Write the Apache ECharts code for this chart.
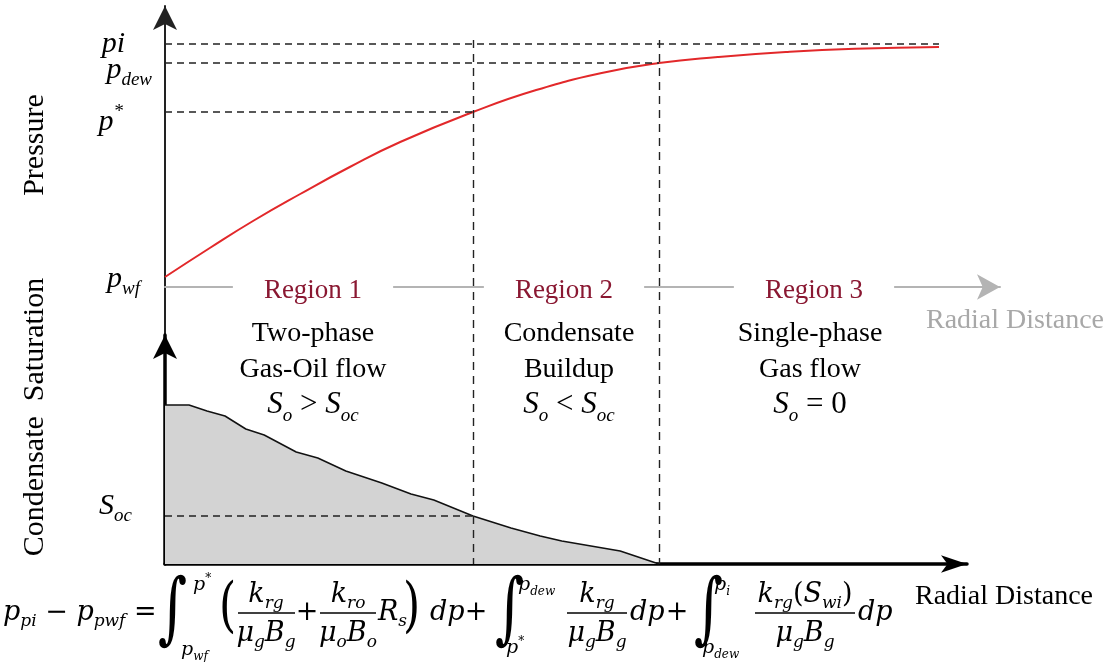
<!DOCTYPE html>
<html>
<head>
<meta charset="utf-8">
<script src="https://cdn.jsdelivr.net/npm/echarts@6/dist/echarts.min.js"></script>
<style>
  html, body { margin: 0; background: #fff; }
  #main { width: 1112px; height: 662px; }
</style>
</head>
<body>
<div id="main"></div>
<script>
var myChart = echarts.init(document.getElementById('main'))

// radial distance in arbitrary units, 0 = wellbore
const rStar = 38.5
const rDew = 61.75
const rEnd = 96.75

// pressure levels (psi)
const pInit = 4860
const pDew = 4480
const pStar = 3500
const pwf = 200
const pDivTop = 4940   // top end of the region dividers

// pressure profile
const pressR = [0, 5.6, 11, 16.9, 23.1, 29.4, 38.5, 46.4, 54.9, 61.75, 69.1, 77.6, 86.25, 96.75]
const pressV = [200, 780, 1320, 1860, 2400, 2900, 3500, 3940, 4290, 4480, 4600, 4700, 4765, 4800]

// condensate saturation (%) profile
const satR = [0, 3, 5.25, 7.5, 10.1, 12.4, 16.4, 19.1, 22.6, 27.1, 30.75, 33.6, 38.5, 43.25, 46.9, 49.6, 56.9, 61.75]
const satV = [39.75, 39.75, 38.25, 37, 33.75, 32.25, 28, 26.5, 23.25, 20.25, 17.5, 16, 12, 9, 7, 5.75, 3.25, 0]
const Soc = 12

// axis extents
const pMin = -5540, pMax = 5620
const sMax = 57.25
const rMaxTop = 104.375, rMaxBot = 100.25

const TF = 'Liberation Serif'
const MF = 'DejaVu Serif'

function mathRich(size, fam) {
  fam = fam || MF
  const lh = Math.round(size * 1.3)
  const ss = Math.round(size * 0.62)
  return {
    i: { fontFamily: fam, fontStyle: 'italic', fontSize: size, lineHeight: lh, color: '#000' },
    n: { fontFamily: fam, fontSize: size, lineHeight: lh, color: '#000' },
    s: { fontFamily: fam, fontStyle: 'italic', fontSize: ss, lineHeight: ss, verticalAlign: 'bottom', color: '#000' },
    u: { fontFamily: fam, fontStyle: 'italic', fontSize: ss, lineHeight: ss, verticalAlign: 'top', color: '#000' }
  }
}

function txt(x, y, text, opt, extra) {
  return Object.assign({
    type: 'text', x: x, y: y, z: 50,
    style: Object.assign({ text: text, fill: '#000', fontFamily: TF, fontSize: 28, align: 'center', verticalAlign: 'middle' }, opt || {})
  }, extra || {})
}
function mtxt(x, y, text, size, align, fam) {
  return txt(x, y, text, { rich: mathRich(size, fam), align: align || 'left' })
}
function bar(x1, x2, y) {
  return { type: 'line', z: 50, shape: { x1: x1, y1: y, x2: x2, y2: y }, style: { stroke: '#000', lineWidth: 1.5 } }
}
function integral(x) {
  return txt(x, 614, '\u222B', { fontFamily: MF, fontSize: 56, align: 'left' }, { scaleY: 1.4 })
}
function paren(x, ch) {
  return txt(x, 610, ch, { fontFamily: MF, fontSize: 44, align: 'left' }, { scaleY: 1.35 })
}

const regionStyle = { fill: '#8a1832', fontSize: 27, backgroundColor: '#fff', padding: [2, 31] }
const FR = 27   // formula main size
const FL = 19   // integral limit size

const graphics = [
  // axis titles
  txt(35, 145, 'Pressure', { fontSize: 30 }, { rotation: Math.PI / 2 }),
  txt(35, 417, 'Condensate  Saturation', { fontSize: 30 }, { rotation: Math.PI / 2 }),
  txt(1015, 321, 'Radial Distance', { fontSize: 28, fill: '#a8a8a8' }),
  txt(1004, 597, 'Radial Distance', { fontSize: 28 }),

  // regions
  txt(313, 291, 'Region 1', regionStyle),
  txt(313, 334, 'Two-phase'),
  txt(313, 370, 'Gas-Oil flow'),
  mtxt(313, 405, '{i|S}{s|o}{n| > }{i|S}{s|oc}', 31, 'center', TF),
  txt(564, 291, 'Region 2', regionStyle),
  txt(569, 334, 'Condensate'),
  txt(569, 370, 'Buildup'),
  mtxt(569, 405, '{i|S}{s|o}{n| < }{i|S}{s|oc}', 31, 'center', TF),
  txt(814, 291, 'Region 3', regionStyle),
  txt(810, 334, 'Single-phase'),
  txt(810, 370, 'Gas flow'),
  mtxt(810, 405, '{i|S}{s|o}{n| = 0}', 31, 'center', TF),

  // formula
  mtxt(3, 613, '{i|p}{s|pi}{n| \u2212 }{i|p}{s|pwf}{n| =}', FR),
  integral(158),
  mtxt(193, 585, '{i|p}{u|*}', FL),
  mtxt(181, 650, '{i|p}{s|wf}', FL),
  paren(219, '('),
  mtxt(266, 595, '{i|k}{s|rg}', FR, 'center'),
  bar(238, 295, 613),
  mtxt(266, 634, '{i|\u03BC}{s|g}{i|B}{s|g}', FR, 'center'),
  mtxt(307, 613, '{n|+}', FR, 'center'),
  mtxt(348, 595, '{i|k}{s|ro}', FR, 'center'),
  bar(320, 376, 613),
  mtxt(348, 634, '{i|\u03BC}{s|o}{i|B}{s|o}', FR, 'center'),
  mtxt(378, 613, '{i|R}{s|s}', FR),
  paren(403, ')'),
  mtxt(430, 613, '{i|dp}', FR),
  mtxt(476, 613, '{n|+}', FR, 'center'),
  integral(495),
  mtxt(518, 585, '{i|p}{s|dew}', FL),
  mtxt(506, 648, '{i|p}{u|*}', FL),
  mtxt(597, 595, '{i|k}{s|rg}', FR, 'center'),
  bar(567, 627, 613),
  mtxt(597, 634, '{i|\u03BC}{s|g}{i|B}{s|g}', FR, 'center'),
  mtxt(630, 613, '{i|dp}', FR),
  mtxt(677, 613, '{n|+}', FR, 'center'),
  integral(694),
  mtxt(714, 585, '{i|p}{s|i}', FL),
  mtxt(702, 648, '{i|p}{s|dew}', FL),
  mtxt(805, 595, '{i|k}{s|rg}{n|(}{i|S}{s|wi}{n|)}', FR, 'center'),
  bar(755, 855, 613),
  mtxt(805, 634, '{i|\u03BC}{s|g}{i|B}{s|g}', FR, 'center'),
  mtxt(858, 613, '{i|dp}', FR)
]

const labelRich = mathRich(30, TF)
const dash = { color: '#222', type: [7, 5], width: 1.6 }

myChart.setOption({
  animation: false,
  grid: [
    { left: 165, right: 112, top: 6, bottom: 98, outerBoundsMode: 'none' },
    { left: 165, right: 145, top: 335, bottom: 98, outerBoundsMode: 'none' }
  ],
  xAxis: [
    {
      type: 'value', gridIndex: 0, min: 0, max: rMaxTop,
      axisLine: { onZero: true, lineStyle: { color: '#b4b4b4', width: 2 }, symbol: ['none', 'arrow'], symbolSize: [19, 23] },
      axisTick: { show: false }, axisLabel: { show: false }, splitLine: { show: false }
    },
    {
      type: 'value', gridIndex: 1, min: 0, max: rMaxBot,
      axisLine: { onZero: false, lineStyle: { color: '#000', width: 3.5 }, symbol: ['none', 'arrow'], symbolSize: [13, 26] },
      axisTick: { show: false }, axisLabel: { show: false }, splitLine: { show: false }
    }
  ],
  yAxis: [
    {
      type: 'value', gridIndex: 0, min: pMin, max: pMax,
      axisLine: { show: true, onZero: false, lineStyle: { color: '#222', width: 2 }, symbol: ['none', 'arrow'], symbolSize: [18, 24] },
      axisTick: { show: false }, axisLabel: { show: false }, splitLine: { show: false }
    },
    {
      type: 'value', gridIndex: 1, min: 0, max: sMax,
      axisLine: { show: true, onZero: false, lineStyle: { color: '#000', width: 3.5 }, symbol: ['none', 'arrow'], symbolSize: [18, 24] },
      axisTick: { show: false }, axisLabel: { show: false }, splitLine: { show: false }
    }
  ],
  series: [
    {
      name: 'Condensate Saturation',
      type: 'line', xAxisIndex: 1, yAxisIndex: 1,
      data: satR.map((r, i) => [r, satV[i]]),
      symbol: 'none', clip: false,
      lineStyle: { color: '#111', width: 1.5 },
      areaStyle: { color: '#d3d3d3', opacity: 1 },
      markLine: {
        symbol: 'none', silent: true, animation: false,
        lineStyle: dash,
        label: { position: 'start', rich: labelRich },
        data: [
          [{ coord: [0, Soc], label: { formatter: '{i|S}{s|oc}', distance: 33, padding: [0, 0, 20, 0] } }, { coord: [rStar, Soc] }]
        ]
      }
    },
    {
      name: 'Pressure',
      type: 'line', xAxisIndex: 0, yAxisIndex: 0,
      data: pressR.map((r, i) => [r, pressV[i]]),
      smooth: 0.5, symbol: 'none', clip: false,
      lineStyle: { color: '#e2282a', width: 2 },
      markLine: {
        symbol: 'none', silent: true, animation: false,
        lineStyle: dash,
        label: { position: 'start', rich: labelRich },
        data: [
          [{ coord: [0, pInit], label: { formatter: '{i|pi}', distance: 40 } }, { coord: [rEnd, pInit] }],
          [{ coord: [0, pDew], label: { formatter: '{i|p}{s|dew}', distance: 13, padding: [14, 0, 0, 0] } }, { coord: [rDew, pDew] }],
          [{ coord: [0, pStar], label: { formatter: '{i|p}{u|*}', distance: 42, padding: [20, 0, 0, 0] } }, { coord: [rStar, pStar] }],
          [{ coord: [0, pwf], label: { formatter: '{i|p}{s|wf}', distance: 25, padding: [4, 0, 0, 0] }, lineStyle: { color: 'rgba(0,0,0,0)' } }, { coord: [1, pwf] }],
          [{ coord: [rStar, pDivTop], label: { show: false }, lineStyle: { width: 1.4, type: [8, 6] } }, { coord: [rStar, pMin] }],
          [{ coord: [rDew, pDivTop], label: { show: false }, lineStyle: { width: 1.4, type: [8, 6] } }, { coord: [rDew, pMin] }]
        ]
      }
    }
  ],
  graphic: graphics
})
</script>
</body>
</html>
